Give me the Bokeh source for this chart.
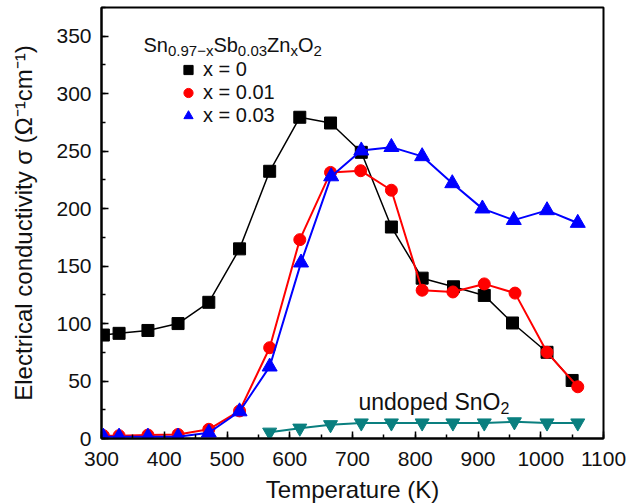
from bokeh.plotting import figure
from bokeh.models import (Range1d, SingleIntervalTicker, Legend, LegendItem, Label)
from bokeh.embed import file_html
from bokeh.resources import INLINE

# ---- data ----
T_x0 = [303, 328, 374, 422, 471, 520, 568, 616, 665, 714, 762, 811, 861, 910, 955, 1010, 1050]
s_x0 = [90, 91.5, 94, 100, 118.5, 165, 232.5, 279.5, 274.5, 249, 184, 139.5, 132, 124.5, 100.5, 75, 50.5]

T_x001 = [303, 328, 374, 422, 471, 520, 568, 616, 665, 713, 762, 811, 860, 910, 959, 1010, 1059]
s_x001 = [2.5, 2.5, 3, 3.5, 8, 24, 79, 173, 231.5, 233, 216, 129, 127.5, 134.5, 126.5, 75, 45]

T_x003 = [303, 328, 374, 422, 471, 520, 568, 618, 666, 714, 762, 811, 859, 907, 957, 1010, 1059]
s_x003 = [1.5, 1.5, 1.5, 1.5, 5, 23.5, 62.5, 153, 228, 250.5, 253.5, 245.5, 222, 200, 190, 198.5, 187.5]

T_und = [568, 616, 665, 714, 762, 811, 860, 910, 958, 1010, 1059]
s_und = [5.5, 9, 12, 13.5, 13.5, 13.5, 13.5, 13.5, 14.5, 13.5, 13.5]

series_labels = ["x = 0", "x = 0.01", "x = 0.03"]

XR = (300, 1100)
YR = (0, 375)
FL, FT, FW, FH = 101, 7, 502, 431
FONT = "Liberation Sans"

p = figure(frame_width=FW, frame_height=FH, x_range=Range1d(*XR), y_range=Range1d(*YR),
           output_backend="svg", toolbar_location=None,
           min_border_left=FL, min_border_right=28, min_border_top=FT, min_border_bottom=66)
p.background_fill_color = "white"
p.border_fill_color = "white"
p.outline_line_color = "black"
p.outline_line_width = 2
p.xgrid.visible = False
p.ygrid.visible = False

p.xaxis.ticker = SingleIntervalTicker(interval=100, num_minor_ticks=2)
p.yaxis.ticker = SingleIntervalTicker(interval=50, num_minor_ticks=2)
for ax in (p.xaxis, p.yaxis):
    ax.axis_line_width = 2
    ax.axis_line_color = "black"
    ax.major_tick_in = 7
    ax.major_tick_out = 0
    ax.minor_tick_in = 4
    ax.minor_tick_out = 0
    ax.major_tick_line_width = 1.5
    ax.minor_tick_line_width = 1.5
    ax.major_label_text_font = FONT
    ax.major_label_text_font_size = "21px"
    ax.major_label_text_color = "#111111"
    ax.axis_label_text_font = FONT
    ax.axis_label_text_font_style = "normal"
    ax.axis_label_text_color = "#111111"
    ax.axis_label_text_font_size = "24px"

p.xaxis.axis_label = "Temperature (K)"
p.xaxis.major_label_standoff = 13
p.xaxis.axis_label_standoff = 7
p.yaxis.axis_label = "Electrical conductivity \u03c3 (\u03a9\u207b\u00b9cm\u207b\u00b9)"
p.yaxis.major_label_standoff = 10
p.yaxis.axis_label_standoff = 16

# ---- series ----
p.line(T_x0, s_x0, line_color="black", line_width=1.5)
r0 = p.scatter(T_x0, s_x0, marker="square", size=12, fill_color="black", line_color="black")
p.line(T_x001, s_x001, line_color="#ff0000", line_width=2)
r1 = p.scatter(T_x001, s_x001, marker="circle", size=12, fill_color="#ff0000", line_color="#ff0000")
p.line(T_x003, s_x003, line_color="#0000ff", line_width=2)
r2 = p.scatter(T_x003, s_x003, marker="triangle", size=15, fill_color="#0000ff", line_color="#0000ff")
p.line(T_und, s_und, line_color="#0a7f7f", line_width=2)
p.scatter(T_und, s_und, marker="inverted_triangle", size=14, fill_color="#0a7f7f", line_color="#0a7f7f")

legend = Legend(items=[LegendItem(label=series_labels[0], renderers=[r0]),
                       LegendItem(label=series_labels[1], renderers=[r1]),
                       LegendItem(label=series_labels[2], renderers=[r2])],
                location=(74, 311))
legend.background_fill_alpha = 0
legend.border_line_alpha = 0
legend.padding = 0
legend.margin = 0
legend.spacing = 0
legend.glyph_width = 26
legend.glyph_height = 23
legend.label_height = 23
legend.label_standoff = 2
legend.label_text_font = FONT
legend.label_text_font_size = "20px"
legend.label_text_color = "#111111"
p.add_layout(legend)

# ---- text annotations (positions from pixel layout) ----
def px2x(px):
    return XR[0] + (px - FL) * (XR[1] - XR[0]) / FW

def py2y(py):
    return YR[0] + (FT + FH - py) * (YR[1] - YR[0]) / FH

AW = {"S": 667, "n": 556, "b": 556, "Z": 611, "O": 778, "x": 500, ".": 278,
      "\u2212": 584, "u": 556, "d": 556, "o": 556, "p": 556, "e": 556, " ": 278}
def tw(s, size):
    return sum(AW.get(c, 556) for c in s) / 1000 * size

def rich(pieces, x0, base, main, sub):
    x = x0
    for txt, is_sub in pieces:
        size = sub if is_sub else main
        yb = base + (6 if is_sub else 0)
        p.add_layout(Label(x=px2x(x), y=py2y(yb), text=txt, text_font=FONT,
                           text_font_size=f"{size}px", text_color="#111111",
                           text_baseline="alphabetic", text_align="left"))
        x += tw(txt, size)

rich([("Sn", False), ("0.97\u2212x", True), ("Sb", False), ("0.03", True),
      ("Zn", False), ("x", True), ("O", False), ("2", True)], 143, 44, 20, 15)
rich([("undoped SnO", False), ("2", True)], 358, 401, 23, 16)

open("out.html", "w").write(file_html(p, INLINE))
